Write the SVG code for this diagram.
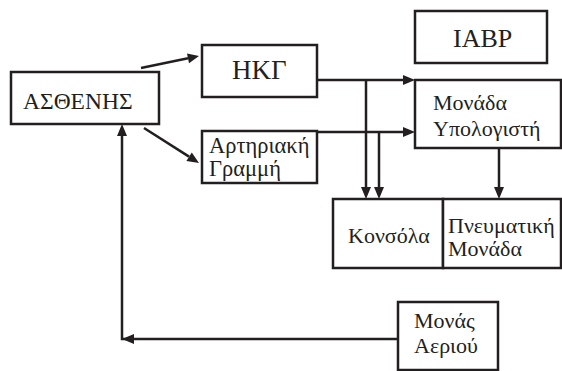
<svg xmlns="http://www.w3.org/2000/svg" width="562" height="371" viewBox="0 0 562 371">
<defs>
<style>
.box{fill:#fff;stroke:#231f20;stroke-width:2.5}
.c{fill:none;stroke:#231f20;stroke-width:2.5}
.h{fill:#231f20}
text{font-family:"Liberation Serif",serif;fill:#231f20}
</style>
</defs>
<rect width="562" height="371" fill="#fff"/>
<g id="connectors">
<path class="c" d="M141,68L188,58.3"/><polygon class="h" points="199,56 187,53.4 189,63.2"/>
<path class="c" d="M144,128L189,156.6"/><polygon class="h" points="199,163 191.8,152.6 186.4,161"/>
<path class="c" d="M317,80H404"/><polygon class="h" points="415,80 403,75 403,85"/>
<path class="c" d="M317,132H404"/><polygon class="h" points="415,132 403,127 403,137"/>
<path class="c" d="M366,80V188"/><polygon class="h" points="366,199 361,187 371,187"/>
<path class="c" d="M379,132V188"/><polygon class="h" points="379,199 374,187 384,187"/>
<path class="c" d="M499,148V188"/><polygon class="h" points="499,199 494,187 504,187"/>
<path class="c" d="M398,339H122V135"/><polygon class="h" points="122,339 134,334 134,344"/><polygon class="h" points="122,124 117,136 127,136"/>
</g>
<g id="n-asthenis"><rect class="box" x="11" y="72" width="148" height="52"/><text x="23" y="109" font-size="23.5">ΑΣΘΕΝΗΣ</text></g>
<g id="n-hkg"><rect class="box" x="202" y="45" width="115" height="52"/><text x="232" y="79" font-size="27">ΗΚΓ</text></g>
<g id="n-arthr"><rect class="box" x="202" y="131" width="115" height="52"/><text x="209" y="153" font-size="22.5">Αρτηριακή</text><text x="209" y="176" font-size="22.5">Γραμμή</text></g>
<g id="n-iabp"><rect class="box" x="415" y="11" width="132" height="52"/><text x="453" y="47" font-size="26">IABP</text></g>
<g id="n-monada"><rect class="box" x="415" y="80" width="146" height="68"/><text x="433" y="110" font-size="22">Μονάδα</text><text x="433" y="136" font-size="22">Υπολογιστή</text></g>
<g id="n-konsola"><rect class="box" x="333" y="199" width="110" height="69"/><text x="348" y="243" font-size="22">Κονσόλα</text></g>
<g id="n-pneum"><rect class="box" x="443" y="199" width="118" height="69"/><text x="448" y="233" font-size="22">Πνευματική</text><text x="448" y="256" font-size="22">Μονάδα</text></g>
<g id="n-aeriou"><rect class="box" x="398" y="302" width="100" height="68"/><text x="414" y="328" font-size="22">Μονάς</text><text x="414" y="353" font-size="22">Αεριού</text></g>
</svg>
